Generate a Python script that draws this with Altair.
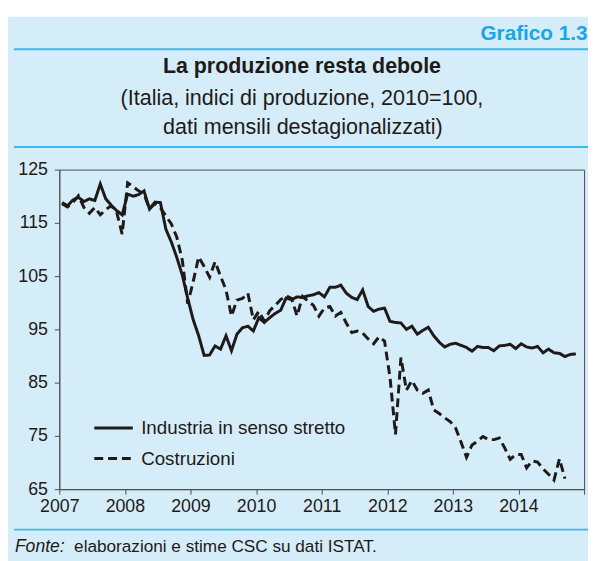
import altair as alt
import pandas as pd

# ---- data (monthly, Jan 2007 onward) ----
serie_names = ["Industria in senso stretto", "Costruzioni"]

industria = [
    118.8, 118.2, 119.3, 119.8, 119.0, 119.5, 119.2, 122.3, 119.5, 118.3, 117.3, 116.5,
    120.4, 120.0, 120.3, 121.0, 117.6, 118.9, 118.8, 113.8, 111.4, 108.5, 105.2, 100.8,
    96.8, 93.8, 90.1, 90.2, 91.9, 91.3, 93.8, 91.0, 94.1, 95.3, 95.6, 94.7,
    97.2, 96.3, 97.2, 98.0, 98.6, 100.9, 100.6, 101.1, 101.0, 101.3, 101.5, 101.9,
    101.1, 102.9, 102.9, 103.3, 101.8, 101.0, 100.6, 102.4, 99.3, 98.4, 98.8, 99.0,
    96.5, 96.3, 96.2, 95.0, 95.6, 94.1, 94.8, 95.4, 93.8, 92.6, 91.7, 92.2,
    92.4, 92.0, 91.6, 90.9, 91.8, 91.6, 91.6, 91.0, 91.9, 92.0, 92.2, 91.4,
    92.3, 91.7, 91.5, 91.8, 90.6, 91.3, 90.6, 90.5, 89.9, 90.3, 90.4,
]

costruzioni = [
    118.6, 118.0, 118.8, 120.1, 117.9, 116.8, 117.9, 116.5, 117.5, 118.2, 117.0, 112.9,
    122.5, 121.8, 121.0, 120.4, 117.6, 118.6, 117.8, 116.3, 114.8, 112.3, 108.0, 99.8,
    104.0, 108.6, 106.8, 104.8, 107.7, 105.0, 102.4, 97.5, 100.5, 100.8, 101.8, 96.8,
    98.4, 96.6, 98.5, 99.5, 100.6, 101.3, 100.8, 97.5, 101.2, 100.3, 99.5, 97.5,
    99.0, 99.3, 97.5, 98.2, 96.2, 94.4, 94.7, 94.3, 93.2, 92.3, 93.6, 92.8,
    86.0, 75.3, 89.7, 83.6, 85.4, 83.6, 83.0, 83.6, 79.9, 79.2, 78.4, 77.7,
    76.5, 73.8, 71.0, 73.3, 74.0, 74.9, 74.3, 74.3, 74.6, 72.7, 70.6, 71.5,
    71.5, 69.0, 70.3, 70.1, 68.8, 67.8, 66.7, 70.7, 67.0,
]

start_year = 2007
year_ticks = list(range(2007, 2016))
y_ticks = [65, 75, 85, 95, 105, 115, 125]

rows = []
for name, vals in zip(serie_names, [industria, costruzioni]):
    for i, v in enumerate(vals):
        # monthly points centred in their month (category axis "between tick marks")
        rows.append({"serie": name, "t": start_year + (i + 0.5) / 12, "v": v})
df = pd.DataFrame(rows)

INK = "#1F1A17"
BLUE_LINE = "#3DB9EC"
BG = "#D5ECF9"
AXIS = "#4D4D4D"
REG = "Liberation Sans, Arial, sans-serif"

lines = alt.Chart(df).mark_line(color=INK, strokeWidth=3).encode(
    x=alt.X(
        "t:Q",
        scale=alt.Scale(domain=[2007, 2015], nice=False, zero=False),
        axis=alt.Axis(
            values=year_ticks, format="d",
            labelExpr="datum.value == 2015 ? '' : datum.label",
            grid=False, tickSize=5, labelPadding=4, labelFlush=False,
            labelOverlap=False, title=None,
        ),
    ),
    y=alt.Y(
        "v:Q",
        scale=alt.Scale(domain=[65, 125], nice=False, zero=False),
        axis=alt.Axis(values=y_ticks, grid=False, tickSize=5, labelPadding=7, title=None),
    ),
    strokeDash=alt.StrokeDash(
        "serie:N",
        scale=alt.Scale(domain=serie_names, range=[[1, 0], [9, 5]]),
        legend=alt.Legend(
            title=None, orient="none", legendX=34, legendY=241,
            symbolType="stroke", symbolSize=1521, symbolStrokeWidth=3,
            symbolStrokeColor=INK, labelFontSize=19, labelFont=REG,
            labelColor=INK, labelOffset=7, rowPadding=-3, padding=0,
            labelLimit=400,
        ),
    ),
)

one = pd.DataFrame({"k": [0]})


def txt(s, x, y, **kw):
    return alt.Chart(one).mark_text(text=s, baseline="alphabetic", font=REG, **kw).encode(
        x=alt.value(x), y=alt.value(y)
    )


def hline(y):
    return alt.Chart(one).mark_rule(color=BLUE_LINE, strokeWidth=2).encode(
        x=alt.value(-46), x2=alt.value(540), y=alt.value(y)
    )


white_strip = alt.Chart(one).mark_rect(color="white").encode(
    x=alt.value(-60), x2=alt.value(540), y=alt.value(-170), y2=alt.value(-155)
)

grafico = txt("Grafico 1.3", 427, -131, align="left", fontSize=21,
              fontWeight="bold", color="#1AA6E6")
title = txt("La produzione resta debole", 246, -98, align="center",
            fontSize=21.7, fontWeight="bold", color=INK)
sub1 = txt("(Italia, indici di produzione, 2010=100,", 246, -65, align="center",
           fontSize=21.8, color=INK)
sub2 = txt("dati  mensili destagionalizzati)", 247, -36, align="center",
           fontSize=21.8, color=INK)
fonte = txt("Fonte:", -45, 388, align="left", fontSize=17.8,
            fontStyle="italic", color=INK)
fonte_rest = txt("elaborazioni e stime CSC su dati ISTAT.", 15, 388, align="left",
                 fontSize=17.4, color=INK)

chart = alt.layer(
    white_strip, hline(-122), hline(-23), hline(365),
    grafico, title, sub1, sub2, fonte, fonte_rest, lines,
).properties(
    width=532, height=324,
    autosize=alt.AutoSizeParams(type="none"),
    padding={"left": 52, "top": 160, "right": 4, "bottom": 69},
    background=BG,
).configure_view(
    stroke=AXIS, strokeWidth=1,
).configure_axis(
    domainColor=AXIS, tickColor=AXIS, labelColor=INK, labelFont=REG,
    labelFontSize=18, domainWidth=1, tickWidth=1,
)

chart.save("out.html", embed_options={"renderer": "svg", "actions": False})
